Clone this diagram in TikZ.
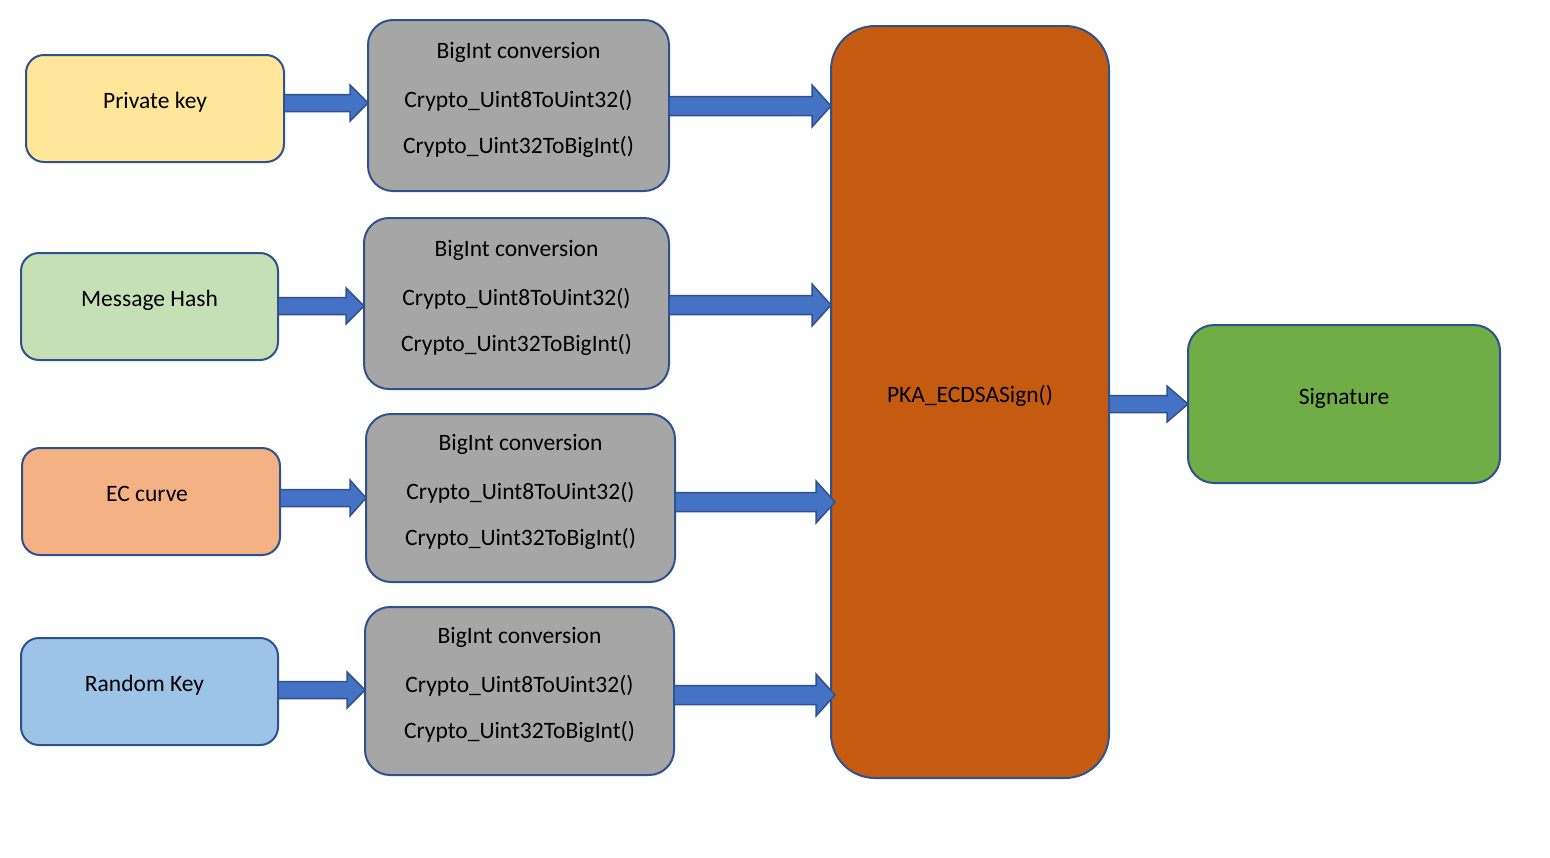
\documentclass[tikz,border=0pt]{standalone}
\usepackage{fontspec}
\setmainfont{Carlito}
\usetikzlibrary{fit,calc}
\definecolor{cyellow}{HTML}{FFE699}
\definecolor{clgreen}{HTML}{C5E0B4}
\definecolor{cpeach}{HTML}{F4B183}
\definecolor{clblue}{HTML}{9DC3E6}
\definecolor{cgray}{HTML}{A6A6A6}
\definecolor{cburnt}{HTML}{C55A11}
\definecolor{cgreen}{HTML}{70AD47}
\definecolor{cborder}{HTML}{2F528F}
\definecolor{carrow}{HTML}{4472C4}
\tikzset{
  box/.style={draw=cborder, line width=1pt, inner sep=0pt, outer sep=0pt},
  inbox/.style={box, rounded corners=9pt},
  convbox/.style={box, fill=cgray, rounded corners=12.5pt},
  txt/.style={anchor=base, inner sep=0pt, font=\fontsize{11.75}{14}\selectfont, text=black},
  blockarr/.style={draw=cborder, line width=0.75pt, fill=carrow, line join=miter},
}
% #1 src, #2 tgt, #3 y (px), #4 shaft half, #5 head half, #6 head length, #7 tip overshoot
\newcommand\blockarrow[7]{%
  \draw[blockarr] let \p1=(#1.east |- 0,#3), \p2=([xshift=#7]#2.west |- 0,#3) in
    (\x1,\y1+#4) -- (\x2-#6,\y1+#4) -- (\x2-#6,\y1+#5) -- (\x2,\y1)
    -- (\x2-#6,\y1-#5) -- (\x2-#6,\y1-#4) -- (\x1,\y1-#4) -- cycle;}
\newcommand\convtexts[1]{%
  \node[txt] (#1-t1) at ([yshift=23.75pt]#1.center) {BigInt conversion};
  \node[txt] (#1-t2) at ([yshift=-0.75pt]#1.center) {Crypto\_Uint8ToUint32()};
  \node[txt] (#1-t3) at ([yshift=-23.75pt]#1.center) {Crypto\_Uint32ToBigInt()};}
\begin{document}
\begin{tikzpicture}[x=0.5pt,y=-0.5pt]
\useasboundingbox (0,0) rectangle (1550,857);
% input boxes
\node[inbox, fill=cyellow, fit={(26,55) (284,162)}] (pk) {};
\node[inbox, fill=clgreen, fit={(21,253) (278,360)}] (mh) {};
\node[inbox, fill=cpeach, fit={(22,448) (280,555)}] (ec) {};
\node[inbox, fill=clblue, fit={(21,638) (278,745)}] (rk) {};
\node[txt] (pk-t) at (pk.center) {Private key};
\node[txt] (mh-t) at (mh.center) {Message Hash};
\node[txt] (ec-t) at ([xshift=-2pt]ec.center) {EC curve};
\node[txt] (rk-t) at ([xshift=-2.5pt]rk.center) {Random Key};
% conversion boxes
\node[convbox, fit={(368,20) (669,191)}] (g1) {};
\node[convbox, fit={(364,218) (669,389)}] (g2) {};
\node[convbox, fit={(366,414) (675,582)}] (g3) {};
\node[convbox, fit={(365,607) (674,775)}] (g4) {};
\convtexts{g1}
\convtexts{g2}
\convtexts{g3}
\convtexts{g4}
% main block
\node[box, fill=cburnt, rounded corners=22pt, fit={(831,26) (1109,778)}] (pka) {};
\node[txt] (pka-t) at (pka.center) {PKA\_ECDSASign()};
% signature
\node[box, fill=cgreen, rounded corners=13pt, fit={(1188,325) (1500,483)}] (sig) {};
\node[txt] (sig-t) at (sig.center) {Signature};
% arrows
\blockarrow{pk}{g1}{103}{4.25pt}{9pt}{9pt}{0pt}
\blockarrow{mh}{g2}{306}{4.25pt}{9pt}{9pt}{0pt}
\blockarrow{ec}{g3}{498}{4.25pt}{9pt}{8pt}{0pt}
\blockarrow{rk}{g4}{690}{4.25pt}{9pt}{9pt}{0pt}
\blockarrow{g1}{pka}{106}{4.75pt}{10.5pt}{9.5pt}{0pt}
\blockarrow{g2}{pka}{305}{4.75pt}{10.5pt}{9.5pt}{0pt}
\blockarrow{g3}{pka}{502}{4.75pt}{10.5pt}{9.5pt}{2pt}
\blockarrow{g4}{pka}{695}{4.75pt}{10.5pt}{9.5pt}{2pt}
\blockarrow{pka}{sig}{404}{4.25pt}{9pt}{10.5pt}{0pt}
\end{tikzpicture}
\end{document}
